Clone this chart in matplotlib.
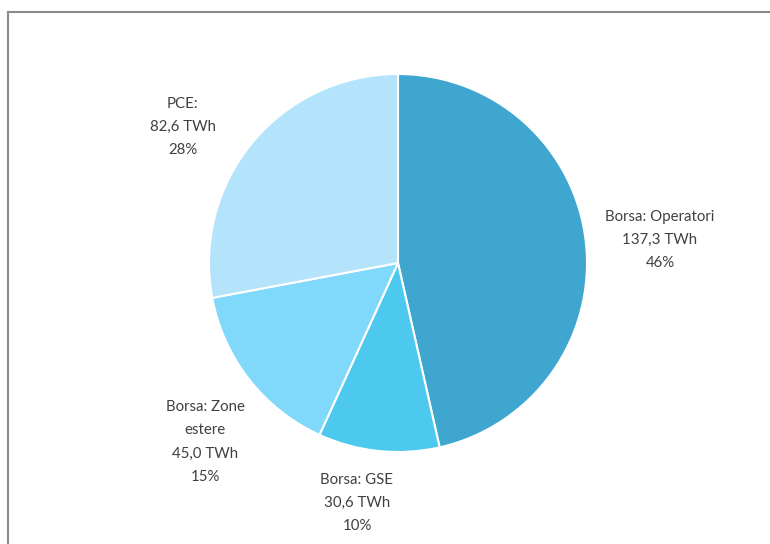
import matplotlib.pyplot as plt
from matplotlib.lines import Line2D

names = ['Borsa: Operatori', 'Borsa: GSE', 'Borsa: Zone\nestere', 'PCE:']
twh = [137.3, 30.6, 45.0, 82.6]
colors = ['#3FA7CF', '#4DC8EE', '#80D8FA', '#B3E4FC']

# label centres, in units of the pie radius
label_pos = [(1.386, 0.122), (-0.217, -1.270), (-1.021, -0.947), (-1.138, 0.720)]

fig = plt.figure(figsize=(7.7, 5.44), dpi=100)
fig.patch.set_facecolor('white')

# pie centre at (398, 263) px, radius 189 px
cx, cy, r = 398, 263, 189
W, H = 770, 544
ax = fig.add_axes([(cx - r) / W, (H - cy - r) / H, 2 * r / W, 2 * r / H])
ax.pie(twh, colors=colors, startangle=90, counterclock=False, radius=1,
       wedgeprops=dict(edgecolor='white', linewidth=1.5))
ax.set_xlim(-1, 1)
ax.set_ylim(-1, 1)
ax.set_aspect('equal')
ax.axis('off')

total = sum(twh)
for name, v, (x, y) in zip(names, twh, label_pos):
    txt = '{}\n{} TWh\n{:.0f}%'.format(name, ('%.1f' % v).replace('.', ','), 100 * v / total)
    ax.text(x, y, txt, ha='center', va='center', fontsize=10.8, color='#404040',
            family='Lato', linespacing=1.85)

# chart frame edges
fig.add_artist(Line2D([7.5 / W, 7.5 / W], [0, 1 - 12 / H], color='#8a8a8a', lw=1.5))
fig.add_artist(Line2D([7.5 / W, 1], [1 - 12 / H, 1 - 12 / H], color='#8a8a8a', lw=1.5))

fig.savefig('out.png', dpi=100, facecolor='white')
